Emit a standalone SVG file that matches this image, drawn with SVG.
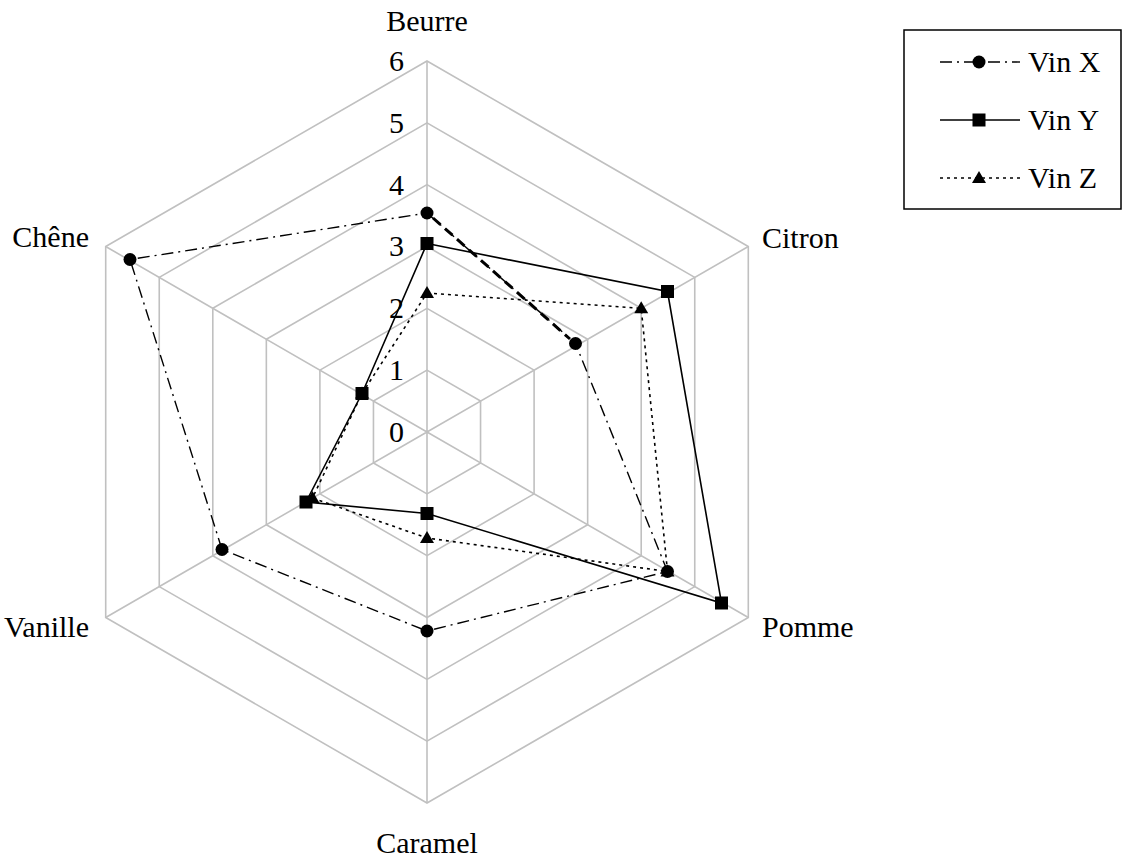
<svg xmlns="http://www.w3.org/2000/svg" width="1124" height="859" viewBox="0 0 1124 859" font-family="'Liberation Serif', 'DejaVu Serif', serif" font-size="30">
<style>
.grid{fill:none;stroke:#c0c0c0;stroke-width:1.6}
.sx{fill:none;stroke:#000;stroke-width:1.4;stroke-dasharray:12 5 2 5}
.sy{fill:none;stroke:#000;stroke-width:1.6}
.sz{fill:none;stroke:#000;stroke-width:1.6;stroke-dasharray:3 4}
.num{text-anchor:end}
</style>
<defs>
<marker id="mc" markerUnits="userSpaceOnUse" markerWidth="16" markerHeight="16" refX="8" refY="8" viewBox="0 0 16 16" orient="0"><circle cx="8" cy="8" r="6.5" fill="#000"/></marker>
<marker id="ms" markerUnits="userSpaceOnUse" markerWidth="16" markerHeight="16" refX="8" refY="8" viewBox="0 0 16 16" orient="0"><rect x="1.5" y="1.5" width="13" height="13" fill="#000"/></marker>
<marker id="mt" markerUnits="userSpaceOnUse" markerWidth="16" markerHeight="16" refX="8" refY="9" viewBox="0 0 16 16" orient="0"><polygon points="8,2 15,14 1,14" fill="#000"/></marker>
</defs>
<g id="grid">
<polygon class="grid" points="427,370.17 480.55,401.08 480.55,462.92 427,493.83 373.45,462.92 373.45,401.08"/>
<polygon class="grid" points="427,308.33 534.1,370.17 534.1,493.83 427,555.67 319.9,493.83 319.9,370.17"/>
<polygon class="grid" points="427,246.5 587.65,339.25 587.65,524.75 427,617.5 266.35,524.75 266.35,339.25"/>
<polygon class="grid" points="427,184.67 641.2,308.33 641.2,555.67 427,679.33 212.8,555.67 212.8,308.33"/>
<polygon class="grid" points="427,122.83 694.75,277.42 694.75,586.58 427,741.17 159.25,586.58 159.25,277.42"/>
<polygon class="grid" points="427,61 748.3,246.5 748.3,617.5 427,803 105.7,617.5 105.7,246.5"/>
<path class="grid" d="M427,432V61M427,432L748.3,246.5M427,432L748.3,617.5M427,432V803M427,432L105.7,617.5M427,432L105.7,246.5"/>
</g>
<g id="axis-values">
<text class="num" x="404" y="71">6</text>
<text class="num" x="404" y="133">5</text>
<text class="num" x="404" y="195">4</text>
<text class="num" x="404" y="256">3</text>
<text class="num" x="404" y="318">2</text>
<text class="num" x="404" y="380">1</text>
<text class="num" x="404" y="442">0</text>
</g>
<g id="axis-labels">
<text id="lbl-beurre" x="427" y="31" text-anchor="middle">Beurre</text>
<text id="lbl-citron" x="762" y="248">Citron</text>
<text id="lbl-pomme" x="762" y="637">Pomme</text>
<text id="lbl-caramel" x="427" y="853" text-anchor="middle">Caramel</text>
<text id="lbl-vanille" x="89" y="637" text-anchor="end">Vanille</text>
<text id="lbl-chene" x="89" y="247" text-anchor="end">Chêne</text>
</g>
<g id="series">
<polygon id="vin-z" class="sz" marker-start="url(#mt)" marker-mid="url(#mt)" points="427,293 641.2,308.3 667.5,571.5 427,538 312.5,498 362,393.5"/>
<polygon id="vin-x" class="sx" marker-start="url(#mc)" marker-mid="url(#mc)" points="427,213 575.5,343.5 667.5,571.5 427,631 222,549.5 130,259.5"/>
<line class="sx" x1="433" y1="218" x2="570" y2="339" style="stroke-width:3;stroke-dasharray:10 6"/>
<polygon id="vin-y" class="sy" marker-start="url(#ms)" marker-mid="url(#ms)" points="427,243.5 667.5,291.5 721.5,603 427,513.5 306,502 362,393.5"/>
</g>
<g id="legend">
<rect x="904" y="30" width="217" height="179" fill="#fff" stroke="#000" stroke-width="1.5"/>
<line class="sx" x1="940" y1="62" x2="1020" y2="62"/>
<circle cx="979" cy="62" r="6.5" fill="#000"/>
<line class="sy" x1="940" y1="120" x2="1020" y2="120"/>
<rect x="972.5" y="113.5" width="13" height="13" fill="#000"/>
<line class="sz" x1="940" y1="178" x2="1020" y2="178"/>
<polygon points="979,171 986,183 972,183" fill="#000"/>
<text x="1028" y="72">Vin X</text>
<text x="1028" y="130">Vin Y</text>
<text x="1028" y="188">Vin Z</text>
</g>
</svg>
